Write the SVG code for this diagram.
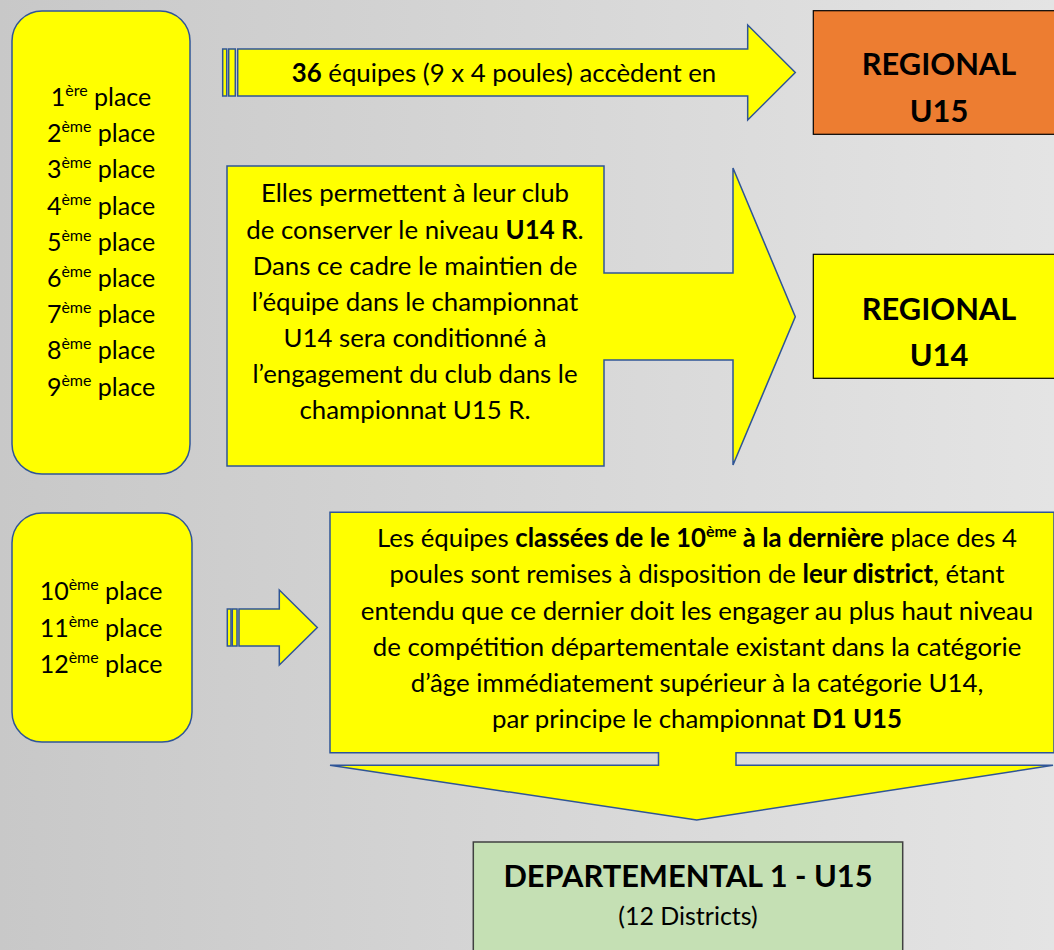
<svg xmlns="http://www.w3.org/2000/svg" width="1054" height="950" viewBox="0 0 1054 950">
<defs>
<linearGradient id="bg" x1="0" y1="0" x2="1" y2="0">
<stop offset="0" stop-color="#c8c8c8"/>
<stop offset="1" stop-color="#e4e4e4"/>
</linearGradient>
<style>
.t{font-family:Lato,"Open Sans",sans-serif;font-size:25.8px;fill:#000;text-anchor:middle}
.l{font-size:25px}
.b{font-weight:bold}
.big{font-family:Lato,"Open Sans",sans-serif;font-size:30.8px;font-weight:bold;fill:#000;text-anchor:middle}
.sh{fill:#ffff00;stroke:#2f5597;stroke-width:1.5}
.box{stroke:#000;stroke-width:1.2}
</style>
</defs>
<rect x="0" y="0" width="1054" height="950" fill="url(#bg)"/>

<g id="places-top">
<rect class="sh" x="12" y="11" width="178" height="463" rx="30" ry="30"/>
<text class="t l" x="101" y="106">1<tspan font-size="16" dy="-10">ère</tspan><tspan dy="10"> place</tspan></text>
<text class="t l" x="101" y="142.2">2<tspan font-size="16" dy="-10">ème</tspan><tspan dy="10"> place</tspan></text>
<text class="t l" x="101" y="178.4">3<tspan font-size="16" dy="-10">ème</tspan><tspan dy="10"> place</tspan></text>
<text class="t l" x="101" y="214.6">4<tspan font-size="16" dy="-10">ème</tspan><tspan dy="10"> place</tspan></text>
<text class="t l" x="101" y="250.8">5<tspan font-size="16" dy="-10">ème</tspan><tspan dy="10"> place</tspan></text>
<text class="t l" x="101" y="287">6<tspan font-size="16" dy="-10">ème</tspan><tspan dy="10"> place</tspan></text>
<text class="t l" x="101" y="323.2">7<tspan font-size="16" dy="-10">ème</tspan><tspan dy="10"> place</tspan></text>
<text class="t l" x="101" y="359.4">8<tspan font-size="16" dy="-10">ème</tspan><tspan dy="10"> place</tspan></text>
<text class="t l" x="101" y="395.6">9<tspan font-size="16" dy="-10">ème</tspan><tspan dy="10"> place</tspan></text>
</g>

<g id="places-bottom">
<rect class="sh" x="12" y="513" width="180" height="229" rx="30" ry="30"/>
<text class="t l" x="101" y="600">10<tspan font-size="16" dy="-10">ème</tspan><tspan dy="10"> place</tspan></text>
<text class="t l" x="101" y="636.5">11<tspan font-size="16" dy="-10">ème</tspan><tspan dy="10"> place</tspan></text>
<text class="t l" x="101" y="672.5">12<tspan font-size="16" dy="-10">ème</tspan><tspan dy="10"> place</tspan></text>
</g>

<g id="connectors">
<g id="arrow-top">
<rect class="sh" x="222.7" y="49" width="4" height="47"/>
<rect class="sh" x="228.7" y="49" width="6.6" height="47"/>
<polygon class="sh" points="237.7,49 747.7,49 747.7,25 795.3,72.5 747.7,120 747.7,96 237.7,96"/>
<text class="t" x="504" y="82"><tspan class="b">36</tspan> équipes (9 x 4 poules) accèdent en</text>
</g>
<g id="arrow-middle">
<polygon class="sh" points="227,166 604,166 604,273 733,273 733,168 795.3,316.7 733,465 733,360 604,360 604,466 227,466"/>
<text class="t" x="415" y="202">Elles permettent à leur club</text>
<text class="t" x="415" y="238.7">de conserver le niveau <tspan class="b">U14 R</tspan>.</text>
<text class="t" x="415" y="275">Dans ce cadre le maintien de</text>
<text class="t" x="415" y="310.7">l’équipe dans le championnat</text>
<text class="t" x="415" y="346.7">U14 sera conditionné à</text>
<text class="t" x="415" y="382.7">l’engagement du club dans le</text>
<text class="t" x="415" y="418.7">championnat U15 R.</text>
</g>
<g id="arrow-small">
<rect class="sh" x="227.3" y="609" width="3.7" height="37"/>
<rect class="sh" x="232.3" y="609" width="4.7" height="37"/>
<polygon class="sh" points="239,609 279.3,609 279.3,590 317.3,627.5 279.3,665 279.3,646 239,646"/>
</g>
<g id="arrow-down">
<polygon class="sh" points="330,512.3 1054,512.3 1054,752.7 736,752.7 736,765.3 1053,765.3 696.7,820 330,765.3 658.5,765.3 658.5,752.7 330,752.7"/>
<text class="t" x="697" y="546.7">Les équipes <tspan class="b">classées de le 10<tspan font-size="16" dy="-10">ème</tspan><tspan dy="10"> à la dernière</tspan></tspan> place des 4</text>
<text class="t" x="697" y="583.3">poules sont remises à disposition de <tspan class="b">leur district</tspan>, étant</text>
<text class="t" x="697" y="620">entendu que ce dernier doit les engager au plus haut niveau</text>
<text class="t" x="697" y="656">de compétition départementale existant dans la catégorie</text>
<text class="t" x="697" y="692">d’âge immédiatement supérieur à la catégorie U14,</text>
<text class="t" x="697" y="728.3">par principe le championnat <tspan class="b">D1 U15</tspan></text>
</g>
</g>

<g id="regional-u15">
<rect class="box" x="813.3" y="10.7" width="245" height="123.6" fill="#ed7d31"/>
<text class="big" x="939" y="75">REGIONAL</text>
<text class="big" x="939" y="121.7">U15</text>
</g>

<g id="regional-u14">
<rect class="box" x="813.3" y="254.3" width="245" height="124" fill="#ffff00"/>
<text class="big" x="939" y="320">REGIONAL</text>
<text class="big" x="939" y="366">U14</text>
</g>

<g id="departemental">
<rect x="473.3" y="842" width="429.4" height="120" fill="#c5e0b4" stroke="#404040" stroke-width="1.5"/>
<text class="big" x="688" y="886.7">DEPARTEMENTAL 1 - U15</text>
<text class="t l" x="688" y="925">(12 Districts)</text>
</g>
</svg>
